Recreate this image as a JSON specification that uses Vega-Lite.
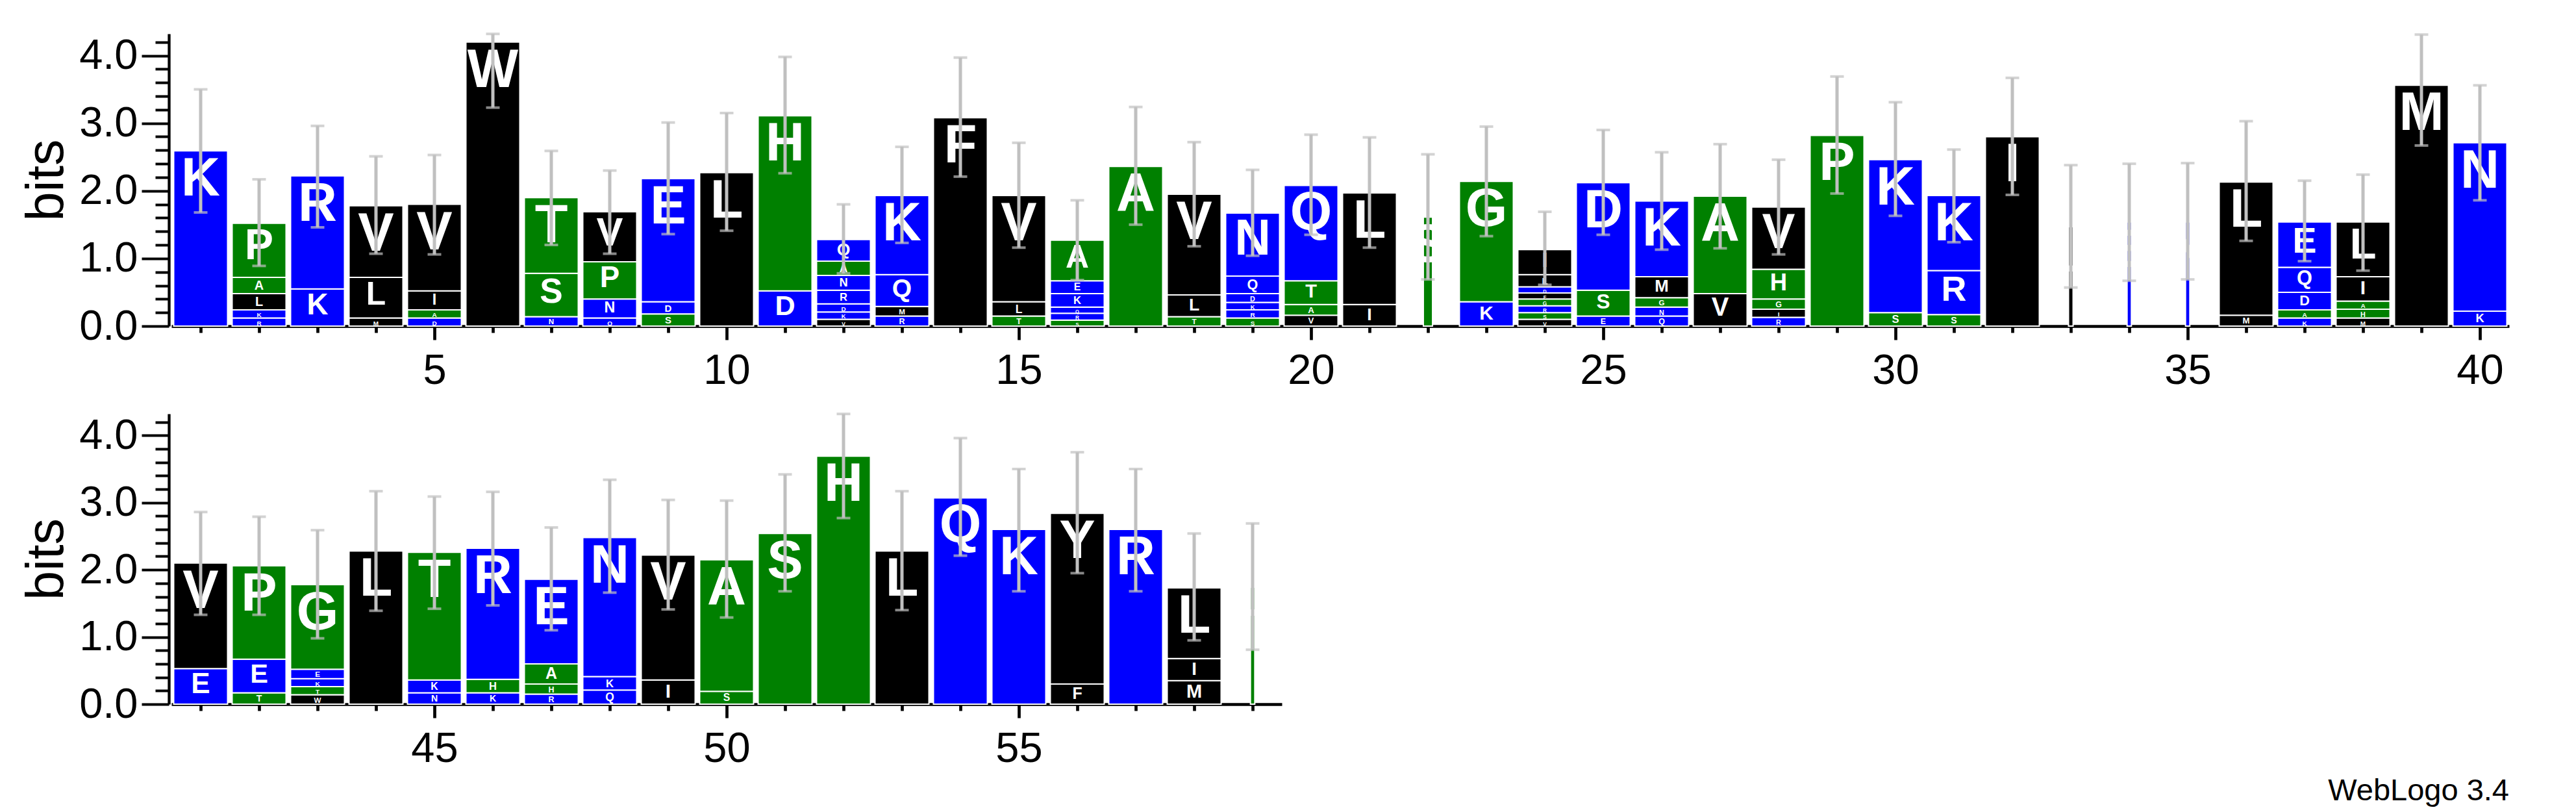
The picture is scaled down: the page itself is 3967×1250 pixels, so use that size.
{
  "$schema": "https://vega.github.io/schema/vega-lite/v6.json",
  "background": "white",
  "padding": {"left": 31, "top": 32, "right": 5, "bottom": 5},
  "config": {
    "font": "Liberation Sans",
    "view": {"stroke": null},
    "axis": {"grid": false, "domainColor": "black", "tickColor": "black", "labelColor": "black", "titleColor": "black", "labelFont": "Liberation Sans", "titleFont": "Liberation Sans", "labelFontSize": 65, "labelOverlap": false, "labelFlush": false, "labelBound": false},
    "axisX": {"domainWidth": 4.7, "tickWidth": 4.7, "labelPadding": 16},
    "axisY": {"domainWidth": 4.3, "tickWidth": 4, "labelPadding": 6, "titleFontSize": 81, "titleFontWeight": "normal", "titlePadding": 8, "offset": 4}
  },
  "title": {"text": "WebLogo 3.4", "orient": "bottom", "anchor": "end", "fontSize": 47, "fontWeight": "normal", "font": "Liberation Sans", "color": "black", "offset": 10},
  "datasets": {
    "letters": [
      {"p":1,"a":"K","b":2.59,"w":1},
      {"p":2,"a":"R","b":0.12,"w":1},{"p":2,"a":"K","b":0.12,"w":1},{"p":2,"a":"L","b":0.24,"w":1},{"p":2,"a":"A","b":0.24,"w":1},{"p":2,"a":"P","b":0.80,"w":1},
      {"p":3,"a":"K","b":0.55,"w":1},{"p":3,"a":"R","b":1.67,"w":1},
      {"p":4,"a":"M","b":0.12,"w":1},{"p":4,"a":"L","b":0.60,"w":1},{"p":4,"a":"V","b":1.06,"w":1},
      {"p":5,"a":"D","b":0.12,"w":1},{"p":5,"a":"A","b":0.12,"w":1},{"p":5,"a":"I","b":0.28,"w":1},{"p":5,"a":"V","b":1.28,"w":1},
      {"p":6,"a":"W","b":4.20,"w":1},
      {"p":7,"a":"N","b":0.14,"w":1},{"p":7,"a":"S","b":0.64,"w":1},{"p":7,"a":"T","b":1.12,"w":1},
      {"p":8,"a":"Q","b":0.12,"w":1},{"p":8,"a":"N","b":0.28,"w":1},{"p":8,"a":"P","b":0.55,"w":1},{"p":8,"a":"V","b":0.74,"w":1},
      {"p":9,"a":"S","b":0.18,"w":1},{"p":9,"a":"D","b":0.18,"w":1},{"p":9,"a":"E","b":1.82,"w":1},
      {"p":10,"a":"L","b":2.27,"w":1},
      {"p":11,"a":"D","b":0.52,"w":1},{"p":11,"a":"H","b":2.59,"w":1},
      {"p":12,"a":"V","b":0.10,"w":1},{"p":12,"a":"K","b":0.11,"w":1},{"p":12,"a":"D","b":0.12,"w":1},{"p":12,"a":"R","b":0.20,"w":1},{"p":12,"a":"N","b":0.22,"w":1},{"p":12,"a":"A","b":0.21,"w":1},{"p":12,"a":"Q","b":0.32,"w":1},
      {"p":13,"a":"R","b":0.15,"w":1},{"p":13,"a":"M","b":0.14,"w":1},{"p":13,"a":"Q","b":0.47,"w":1},{"p":13,"a":"K","b":1.17,"w":1},
      {"p":14,"a":"F","b":3.08,"w":1},
      {"p":15,"a":"T","b":0.15,"w":1},{"p":15,"a":"L","b":0.21,"w":1},{"p":15,"a":"V","b":1.57,"w":1},
      {"p":16,"a":"S","b":0.09,"w":1},{"p":16,"a":"R","b":0.10,"w":1},{"p":16,"a":"Q","b":0.09,"w":1},{"p":16,"a":"K","b":0.20,"w":1},{"p":16,"a":"E","b":0.19,"w":1},{"p":16,"a":"A","b":0.60,"w":1},
      {"p":17,"a":"A","b":2.36,"w":1},
      {"p":18,"a":"T","b":0.14,"w":1},{"p":18,"a":"L","b":0.32,"w":1},{"p":18,"a":"V","b":1.49,"w":1},
      {"p":19,"a":"S","b":0.12,"w":1},{"p":19,"a":"R","b":0.12,"w":1},{"p":19,"a":"K","b":0.11,"w":1},{"p":19,"a":"D","b":0.13,"w":1},{"p":19,"a":"Q","b":0.26,"w":1},{"p":19,"a":"N","b":0.93,"w":1},
      {"p":20,"a":"V","b":0.16,"w":1},{"p":20,"a":"A","b":0.16,"w":1},{"p":20,"a":"T","b":0.35,"w":1},{"p":20,"a":"Q","b":1.41,"w":1},
      {"p":21,"a":"I","b":0.32,"w":1},{"p":21,"a":"L","b":1.65,"w":1},
      {"p":22,"a":"S","b":1.61,"w":0.17},
      {"p":23,"a":"K","b":0.36,"w":1},{"p":23,"a":"G","b":1.78,"w":1},
      {"p":24,"a":"V","b":0.10,"w":1},{"p":24,"a":"S","b":0.10,"w":1},{"p":24,"a":"R","b":0.10,"w":1},{"p":24,"a":"G","b":0.10,"w":1},{"p":24,"a":"F","b":0.09,"w":1},{"p":24,"a":"D","b":0.09,"w":1},{"p":24,"a":"L","b":0.18,"w":1},{"p":24,"a":"I","b":0.37,"w":1},
      {"p":25,"a":"E","b":0.15,"w":1},{"p":25,"a":"S","b":0.38,"w":1},{"p":25,"a":"D","b":1.59,"w":1},
      {"p":26,"a":"Q","b":0.15,"w":1},{"p":26,"a":"N","b":0.13,"w":1},{"p":26,"a":"G","b":0.14,"w":1},{"p":26,"a":"M","b":0.31,"w":1},{"p":26,"a":"K","b":1.12,"w":1},
      {"p":27,"a":"V","b":0.48,"w":1},{"p":27,"a":"A","b":1.44,"w":1},
      {"p":28,"a":"R","b":0.13,"w":1},{"p":28,"a":"I","b":0.12,"w":1},{"p":28,"a":"G","b":0.15,"w":1},{"p":28,"a":"H","b":0.44,"w":1},{"p":28,"a":"V","b":0.92,"w":1},
      {"p":29,"a":"P","b":2.82,"w":1},
      {"p":30,"a":"S","b":0.20,"w":1},{"p":30,"a":"K","b":2.26,"w":1},
      {"p":31,"a":"S","b":0.17,"w":1},{"p":31,"a":"R","b":0.65,"w":1},{"p":31,"a":"K","b":1.11,"w":1},
      {"p":32,"a":"I","b":2.80,"w":1},
      {"p":33,"a":"L","b":1.47,"w":0.085},
      {"p":34,"a":"E","b":1.54,"w":0.08},
      {"p":35,"a":"N","b":1.54,"w":0.08},
      {"p":36,"a":"M","b":0.16,"w":1},{"p":36,"a":"L","b":1.97,"w":1},
      {"p":37,"a":"K","b":0.12,"w":1},{"p":37,"a":"A","b":0.12,"w":1},{"p":37,"a":"D","b":0.26,"w":1},{"p":37,"a":"Q","b":0.37,"w":1},{"p":37,"a":"E","b":0.67,"w":1},
      {"p":38,"a":"M","b":0.12,"w":1},{"p":38,"a":"H","b":0.13,"w":1},{"p":38,"a":"A","b":0.12,"w":1},{"p":38,"a":"I","b":0.36,"w":1},{"p":38,"a":"L","b":0.81,"w":1},
      {"p":39,"a":"M","b":3.56,"w":1},
      {"p":40,"a":"K","b":0.22,"w":1},{"p":40,"a":"N","b":2.49,"w":1},
      {"p":41,"a":"E","b":0.53,"w":1},{"p":41,"a":"V","b":1.57,"w":1},
      {"p":42,"a":"T","b":0.17,"w":1},{"p":42,"a":"E","b":0.50,"w":1},{"p":42,"a":"P","b":1.39,"w":1},
      {"p":43,"a":"W","b":0.14,"w":1},{"p":43,"a":"T","b":0.12,"w":1},{"p":43,"a":"K","b":0.12,"w":1},{"p":43,"a":"E","b":0.14,"w":1},{"p":43,"a":"G","b":1.26,"w":1},
      {"p":44,"a":"L","b":2.28,"w":1},
      {"p":45,"a":"N","b":0.17,"w":1},{"p":45,"a":"K","b":0.19,"w":1},{"p":45,"a":"T","b":1.90,"w":1},
      {"p":46,"a":"K","b":0.17,"w":1},{"p":46,"a":"H","b":0.20,"w":1},{"p":46,"a":"R","b":1.95,"w":1},
      {"p":47,"a":"R","b":0.15,"w":1},{"p":47,"a":"H","b":0.15,"w":1},{"p":47,"a":"A","b":0.30,"w":1},{"p":47,"a":"E","b":1.26,"w":1},
      {"p":48,"a":"Q","b":0.21,"w":1},{"p":48,"a":"K","b":0.20,"w":1},{"p":48,"a":"N","b":2.07,"w":1},
      {"p":49,"a":"I","b":0.36,"w":1},{"p":49,"a":"V","b":1.86,"w":1},
      {"p":50,"a":"S","b":0.19,"w":1},{"p":50,"a":"A","b":1.96,"w":1},
      {"p":51,"a":"S","b":2.54,"w":1},
      {"p":52,"a":"H","b":3.69,"w":1},
      {"p":53,"a":"L","b":2.28,"w":1},
      {"p":54,"a":"Q","b":3.07,"w":1},
      {"p":55,"a":"K","b":2.60,"w":1},
      {"p":56,"a":"F","b":0.30,"w":1},{"p":56,"a":"Y","b":2.54,"w":1},
      {"p":57,"a":"R","b":2.60,"w":1},
      {"p":58,"a":"M","b":0.35,"w":1},{"p":58,"a":"I","b":0.33,"w":1},{"p":58,"a":"L","b":1.05,"w":1},
      {"p":59,"a":"H","b":1.74,"w":0.08}
    ],
    "err": [
      {"p":1,"lo":1.68,"hi":3.50},{"p":2,"lo":0.89,"hi":2.17},{"p":3,"lo":1.46,"hi":2.96},{"p":4,"lo":1.07,"hi":2.51},{"p":5,"lo":1.06,"hi":2.53},
      {"p":6,"lo":3.23,"hi":4.32},{"p":7,"lo":1.20,"hi":2.59},{"p":8,"lo":1.07,"hi":2.30},{"p":9,"lo":1.36,"hi":3.01},{"p":10,"lo":1.41,"hi":3.15},
      {"p":11,"lo":2.26,"hi":3.98},{"p":12,"lo":0.78,"hi":1.80},{"p":13,"lo":1.23,"hi":2.65},{"p":14,"lo":2.21,"hi":3.97},{"p":15,"lo":1.16,"hi":2.71},
      {"p":16,"lo":0.68,"hi":1.86},{"p":17,"lo":1.50,"hi":3.24},{"p":18,"lo":1.18,"hi":2.72},{"p":19,"lo":1.04,"hi":2.31},{"p":20,"lo":1.35,"hi":2.83},
      {"p":21,"lo":1.16,"hi":2.79},{"p":22,"lo":0.69,"hi":2.54},{"p":23,"lo":1.33,"hi":2.95},{"p":24,"lo":0.61,"hi":1.69},{"p":25,"lo":1.35,"hi":2.90},
      {"p":26,"lo":1.13,"hi":2.57},{"p":27,"lo":1.15,"hi":2.69},{"p":28,"lo":1.06,"hi":2.46},{"p":29,"lo":1.96,"hi":3.69},{"p":30,"lo":1.63,"hi":3.31},
      {"p":31,"lo":1.24,"hi":2.61},{"p":32,"lo":1.94,"hi":3.67},{"p":33,"lo":0.57,"hi":2.38},{"p":34,"lo":0.67,"hi":2.40},{"p":35,"lo":0.69,"hi":2.41},
      {"p":36,"lo":1.26,"hi":3.03},{"p":37,"lo":0.96,"hi":2.15},{"p":38,"lo":0.82,"hi":2.24},{"p":39,"lo":2.67,"hi":4.31},{"p":40,"lo":1.86,"hi":3.56},
      {"p":41,"lo":1.33,"hi":2.86},{"p":42,"lo":1.33,"hi":2.79},{"p":43,"lo":0.98,"hi":2.59},{"p":44,"lo":1.39,"hi":3.17},{"p":45,"lo":1.42,"hi":3.09},
      {"p":46,"lo":1.47,"hi":3.16},{"p":47,"lo":1.10,"hi":2.63},{"p":48,"lo":1.66,"hi":3.34},{"p":49,"lo":1.41,"hi":3.04},{"p":50,"lo":1.29,"hi":3.03},
      {"p":51,"lo":1.68,"hi":3.42},{"p":52,"lo":2.77,"hi":4.32},{"p":53,"lo":1.40,"hi":3.17},{"p":54,"lo":2.21,"hi":3.96},{"p":55,"lo":1.68,"hi":3.50},
      {"p":56,"lo":1.95,"hi":3.75},{"p":57,"lo":1.68,"hi":3.50},{"p":58,"lo":0.95,"hi":2.54},{"p":59,"lo":0.81,"hi":2.69}
    ]
  },
  "spacing": 135,
  "bounds": "flush",
  "vconcat": [
    {
      "width": 3600,
      "height": 450,
      "encoding": {
        "x": {"field": "p", "type": "quantitative", "scale": {"domain": [0.5, 40.5], "nice": false, "zero": false, "padding": 0},
          "axis": {"title": null, "values": [1,2,3,4,5,6,7,8,9,10,11,12,13,14,15,16,17,18,19,20,21,22,23,24,25,26,27,28,29,30,31,32,33,34,35,36,37,38,39,40],
            "labelExpr": "datum.value % 5 === 0 ? datum.label : ''",
            "tickSize": {"condition": {"test": "datum.value % 5 === 0", "value": 21}, "value": 10}}}
      },
      "layer": [
        {
          "data": {"name": "letters"},
          "transform": [
            {"filter": "datum.p <= 40"},
            {"window": [{"op": "row_number", "as": "r"}]},
            {"stack": "b", "groupby": ["p"], "sort": [{"field": "r", "order": "ascending"}], "as": ["y0", "y1"]}
          ],
          "layer": [
            {
              "mark": {"type": "bar", "stroke": "white", "strokeWidth": 2},
              "encoding": {
                "y": {"field": "y0", "type": "quantitative", "title": "bits", "scale": {"domain": [0, 4.3219], "nice": false, "padding": 0},
                  "axis": {"title": "bits", "values": [0,0.2,0.4,0.6,0.8,1,1.2,1.4,1.6,1.8,2,2.2,2.4,2.6,2.8,3,3.2,3.4,3.6,3.8,4,4.2], "labelExpr": "abs(datum.value - round(datum.value)) < 0.001 ? format(datum.value, '.1f') : ''", "tickSize": {"condition": {"test": "abs(datum.value - round(datum.value)) < 0.001", "value": 42}, "value": 21}}},
                "y2": {"field": "y1"},
                "size": {"field": "w", "type": "quantitative", "scale": {"domain": [0, 1], "range": [0, 83]}, "legend": null},
                "color": {"field": "a", "type": "nominal", "legend": null,
                  "scale": {"domain": ["K","R","D","E","Q","N","A","P","G","S","T","H","V","L","I","M","W","F","Y","C"],
                    "range": ["#0000ff","#0000ff","#0000ff","#0000ff","#0000ff","#0000ff","#008000","#008000","#008000","#008000","#008000","#008000","#000000","#000000","#000000","#000000","#000000","#000000","#000000","#000000"]}}
              }
            },
            {
              "mark": {"type": "text", "color": "white", "fontWeight": "bold", "font": "Liberation Sans", "baseline": "top", "dy": 3},
              "encoding": {
                "y": {"field": "y1", "type": "quantitative", "title": "bits",
                  "axis": {"title": "bits", "values": [0,0.2,0.4,0.6,0.8,1,1.2,1.4,1.6,1.8,2,2.2,2.4,2.6,2.8,3,3.2,3.4,3.6,3.8,4,4.2], "labelExpr": "abs(datum.value - round(datum.value)) < 0.001 ? format(datum.value, '.1f') : ''", "tickSize": {"condition": {"test": "abs(datum.value - round(datum.value)) < 0.001", "value": 42}, "value": 21}}},
                "text": {"field": "a"},
                "size": {"field": "b", "type": "quantitative", "scale": {"domain": [0, 0.66], "range": [0, 90], "clamp": true}, "legend": null}
              }
            }
          ]
        },
        {
          "data": {"name": "err"},
          "transform": [{"filter": "datum.p <= 40"}],
          "layer": [
            {"mark": {"type": "rule", "color": "#c0c0c0", "strokeWidth": 5},
             "encoding": {"y": {"field": "lo", "type": "quantitative", "title": "bits",
                  "axis": {"title": "bits", "values": [0,0.2,0.4,0.6,0.8,1,1.2,1.4,1.6,1.8,2,2.2,2.4,2.6,2.8,3,3.2,3.4,3.6,3.8,4,4.2], "labelExpr": "abs(datum.value - round(datum.value)) < 0.001 ? format(datum.value, '.1f') : ''", "tickSize": {"condition": {"test": "abs(datum.value - round(datum.value)) < 0.001", "value": 42}, "value": 21}}},
               "y2": {"field": "hi"}}},
            {"mark": {"type": "tick", "orient": "horizontal", "color": "#c0c0c0", "size": 21, "thickness": 4},
             "encoding": {"y": {"field": "lo", "type": "quantitative", "title": "bits",
                  "axis": {"title": "bits", "values": [0,0.2,0.4,0.6,0.8,1,1.2,1.4,1.6,1.8,2,2.2,2.4,2.6,2.8,3,3.2,3.4,3.6,3.8,4,4.2], "labelExpr": "abs(datum.value - round(datum.value)) < 0.001 ? format(datum.value, '.1f') : ''", "tickSize": {"condition": {"test": "abs(datum.value - round(datum.value)) < 0.001", "value": 42}, "value": 21}}}}},
            {"mark": {"type": "tick", "orient": "horizontal", "color": "#c0c0c0", "size": 21, "thickness": 4},
             "encoding": {"y": {"field": "hi", "type": "quantitative", "title": "bits",
                  "axis": {"title": "bits", "values": [0,0.2,0.4,0.6,0.8,1,1.2,1.4,1.6,1.8,2,2.2,2.4,2.6,2.8,3,3.2,3.4,3.6,3.8,4,4.2], "labelExpr": "abs(datum.value - round(datum.value)) < 0.001 ? format(datum.value, '.1f') : ''", "tickSize": {"condition": {"test": "abs(datum.value - round(datum.value)) < 0.001", "value": 42}, "value": 21}}}}}
          ]
        }
      ]
    },
    {
      "width": 1710,
      "height": 447,
      "encoding": {
        "x": {"field": "p", "type": "quantitative", "scale": {"domain": [40.5, 59.5], "nice": false, "zero": false, "padding": 0},
          "axis": {"title": null, "values": [41,42,43,44,45,46,47,48,49,50,51,52,53,54,55,56,57,58,59],
            "labelExpr": "datum.value % 5 === 0 ? datum.label : ''",
            "tickSize": {"condition": {"test": "datum.value % 5 === 0", "value": 21}, "value": 10}}}
      },
      "layer": [
        {
          "data": {"name": "letters"},
          "transform": [
            {"filter": "datum.p > 40"},
            {"window": [{"op": "row_number", "as": "r"}]},
            {"stack": "b", "groupby": ["p"], "sort": [{"field": "r", "order": "ascending"}], "as": ["y0", "y1"]}
          ],
          "layer": [
            {
              "mark": {"type": "bar", "stroke": "white", "strokeWidth": 2},
              "encoding": {
                "y": {"field": "y0", "type": "quantitative", "title": "bits", "scale": {"domain": [0, 4.3219], "nice": false, "padding": 0},
                  "axis": {"title": "bits", "values": [0,0.2,0.4,0.6,0.8,1,1.2,1.4,1.6,1.8,2,2.2,2.4,2.6,2.8,3,3.2,3.4,3.6,3.8,4,4.2], "labelExpr": "abs(datum.value - round(datum.value)) < 0.001 ? format(datum.value, '.1f') : ''", "tickSize": {"condition": {"test": "abs(datum.value - round(datum.value)) < 0.001", "value": 42}, "value": 21}}},
                "y2": {"field": "y1"},
                "size": {"field": "w", "type": "quantitative", "scale": {"domain": [0, 1], "range": [0, 83]}, "legend": null},
                "color": {"field": "a", "type": "nominal", "legend": null,
                  "scale": {"domain": ["K","R","D","E","Q","N","A","P","G","S","T","H","V","L","I","M","W","F","Y","C"],
                    "range": ["#0000ff","#0000ff","#0000ff","#0000ff","#0000ff","#0000ff","#008000","#008000","#008000","#008000","#008000","#008000","#000000","#000000","#000000","#000000","#000000","#000000","#000000","#000000"]}}
              }
            },
            {
              "mark": {"type": "text", "color": "white", "fontWeight": "bold", "font": "Liberation Sans", "baseline": "top", "dy": 3},
              "encoding": {
                "y": {"field": "y1", "type": "quantitative", "title": "bits",
                  "axis": {"title": "bits", "values": [0,0.2,0.4,0.6,0.8,1,1.2,1.4,1.6,1.8,2,2.2,2.4,2.6,2.8,3,3.2,3.4,3.6,3.8,4,4.2], "labelExpr": "abs(datum.value - round(datum.value)) < 0.001 ? format(datum.value, '.1f') : ''", "tickSize": {"condition": {"test": "abs(datum.value - round(datum.value)) < 0.001", "value": 42}, "value": 21}}},
                "text": {"field": "a"},
                "size": {"field": "b", "type": "quantitative", "scale": {"domain": [0, 0.66], "range": [0, 90], "clamp": true}, "legend": null}
              }
            }
          ]
        },
        {
          "data": {"name": "err"},
          "transform": [{"filter": "datum.p > 40"}],
          "layer": [
            {"mark": {"type": "rule", "color": "#c0c0c0", "strokeWidth": 5},
             "encoding": {"y": {"field": "lo", "type": "quantitative", "title": "bits",
                  "axis": {"title": "bits", "values": [0,0.2,0.4,0.6,0.8,1,1.2,1.4,1.6,1.8,2,2.2,2.4,2.6,2.8,3,3.2,3.4,3.6,3.8,4,4.2], "labelExpr": "abs(datum.value - round(datum.value)) < 0.001 ? format(datum.value, '.1f') : ''", "tickSize": {"condition": {"test": "abs(datum.value - round(datum.value)) < 0.001", "value": 42}, "value": 21}}},
               "y2": {"field": "hi"}}},
            {"mark": {"type": "tick", "orient": "horizontal", "color": "#c0c0c0", "size": 21, "thickness": 4},
             "encoding": {"y": {"field": "lo", "type": "quantitative", "title": "bits",
                  "axis": {"title": "bits", "values": [0,0.2,0.4,0.6,0.8,1,1.2,1.4,1.6,1.8,2,2.2,2.4,2.6,2.8,3,3.2,3.4,3.6,3.8,4,4.2], "labelExpr": "abs(datum.value - round(datum.value)) < 0.001 ? format(datum.value, '.1f') : ''", "tickSize": {"condition": {"test": "abs(datum.value - round(datum.value)) < 0.001", "value": 42}, "value": 21}}}}},
            {"mark": {"type": "tick", "orient": "horizontal", "color": "#c0c0c0", "size": 21, "thickness": 4},
             "encoding": {"y": {"field": "hi", "type": "quantitative", "title": "bits",
                  "axis": {"title": "bits", "values": [0,0.2,0.4,0.6,0.8,1,1.2,1.4,1.6,1.8,2,2.2,2.4,2.6,2.8,3,3.2,3.4,3.6,3.8,4,4.2], "labelExpr": "abs(datum.value - round(datum.value)) < 0.001 ? format(datum.value, '.1f') : ''", "tickSize": {"condition": {"test": "abs(datum.value - round(datum.value)) < 0.001", "value": 42}, "value": 21}}}}}
          ]
        }
      ]
    }
  ]
}
